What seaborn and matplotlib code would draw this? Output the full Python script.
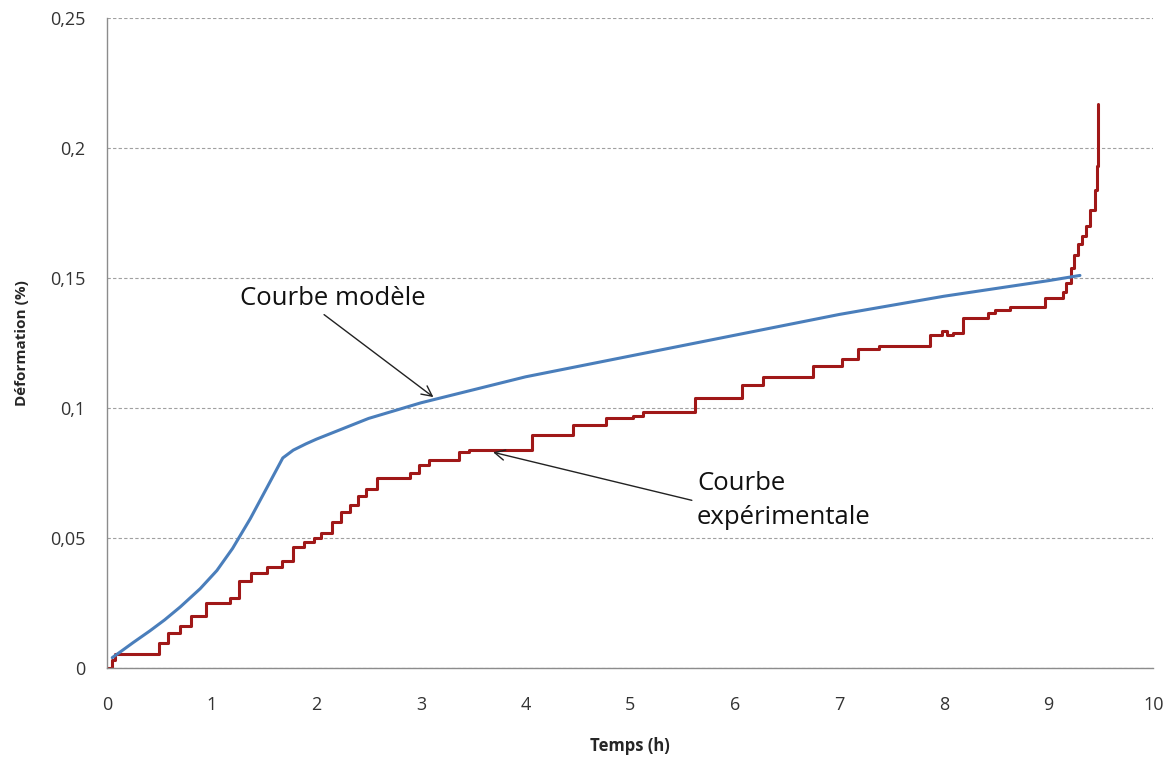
import matplotlib.pyplot as plt
import numpy as np
import pandas as pd
import seaborn as sns

# model curve (smooth)
model_t = [0.05, 0.12, 0.25, 0.41, 0.55, 0.70, 0.89, 1.05, 1.20, 1.37, 1.53, 1.68,
           1.78, 1.90, 2.00, 2.50, 3.00, 3.50, 4.00, 5.00, 6.00, 7.00, 8.00, 9.00, 9.30]
model_def = [0.004, 0.006, 0.0098, 0.0143, 0.0185, 0.0235, 0.0305, 0.0375, 0.046,
             0.0575, 0.0695, 0.0808, 0.0838, 0.0862, 0.088, 0.096, 0.102, 0.107, 0.112,
             0.120, 0.128, 0.136, 0.143, 0.149, 0.151]

# experimental curve (stepwise readings)
exp_t = [0.00, 0.05, 0.08, 0.50, 0.58, 0.70, 0.80, 0.95, 1.18, 1.26, 1.38, 1.53,
         1.67, 1.78, 1.88, 1.98, 2.05, 2.15, 2.24, 2.32, 2.40, 2.48, 2.58, 2.90,
         2.98, 3.08, 3.36, 3.46, 4.06, 4.45, 4.77, 5.03, 5.12, 5.62, 6.07, 6.27,
         6.75, 7.03, 7.18, 7.38, 7.87, 7.98, 8.03, 8.09, 8.18, 8.42, 8.49, 8.63,
         8.97, 9.14, 9.17, 9.21, 9.24, 9.28, 9.32, 9.36, 9.40, 9.44, 9.46, 9.47]
exp_def = [0.000, 0.003, 0.0055, 0.0095, 0.0135, 0.016, 0.020, 0.025, 0.027, 0.0335,
           0.0365, 0.039, 0.041, 0.0465, 0.0485, 0.050, 0.052, 0.056, 0.060, 0.0627,
           0.066, 0.069, 0.073, 0.075, 0.078, 0.080, 0.083, 0.084, 0.0896, 0.0935,
           0.096, 0.097, 0.0985, 0.104, 0.109, 0.112, 0.116, 0.119, 0.1227, 0.124,
           0.128, 0.1295, 0.128, 0.129, 0.1346, 0.1365, 0.1377, 0.139, 0.1425, 0.1446,
           0.148, 0.154, 0.159, 0.163, 0.166, 0.170, 0.176, 0.184, 0.193, 0.217]

x_ticks = [0, 1, 2, 3, 4, 5, 6, 7, 8, 9, 10]
y_ticks = [0, 0.05, 0.10, 0.15, 0.20, 0.25]
y_tick_labels = ["0", "0,05", "0,1", "0,15", "0,2", "0,25"]

df_model = pd.DataFrame({"t": model_t, "d": model_def})
df_exp = pd.DataFrame({"t": exp_t, "d": exp_def})

sns.set_style("white")
plt.rcParams["font.family"] = ["Open Sans", "DejaVu Sans"]

fig = plt.figure(figsize=(11.66, 7.58), dpi=100)
ax = fig.add_axes([0.0918, 0.1187, 0.8972, 0.8575])

sns.lineplot(data=df_exp, x="t", y="d", ax=ax, color="#a01818", linewidth=2.2,
             drawstyle="steps-post", estimator=None, sort=False)
sns.lineplot(data=df_model, x="t", y="d", ax=ax, color="#4a7ebb", linewidth=2.2,
             estimator=None, sort=False)

ax.set_xlim(0, 10)
ax.set_ylim(0, 0.25)
ax.set_xticks(x_ticks)
ax.set_xticklabels([str(v) for v in x_ticks])
ax.set_yticks(y_ticks)
ax.set_yticklabels(y_tick_labels)

ax.yaxis.grid(True, linestyle=(0, (3, 2)), color="#a0a0a0", linewidth=0.8)
ax.set_axisbelow(True)
for side in ["top", "right"]:
    ax.spines[side].set_visible(False)
for side in ["left", "bottom"]:
    ax.spines[side].set_color("#8c8c8c")
    ax.spines[side].set_linewidth(1.0)

ax.tick_params(axis="both", which="major", direction="out", length=3.5, width=1,
               color="#8c8c8c", labelsize=13, labelcolor="#333333")
ax.tick_params(axis="x", pad=17)
ax.tick_params(axis="y", pad=12)

ax.set_xlabel("Temps (h)", fontsize=12, fontweight="bold", labelpad=16)
ax.set_ylabel("Déformation (%)", fontsize=11, fontweight="bold", labelpad=15)

# annotations
ax.annotate("Courbe modèle", xy=(3.12, 0.1042), xytext=(1.27, 0.142),
            fontsize=18.5, va="center", ha="left", color="#111111",
            arrowprops=dict(arrowstyle="->", color="#222222", lw=1,
                            shrinkA=0, shrinkB=0, relpos=(0.43, 0.0)))
ax.annotate("Courbe\nexpérimentale", xy=(3.69, 0.083), xytext=(5.64, 0.0645),
            fontsize=18.5, va="center", ha="left", color="#111111",
            linespacing=1.45,
            arrowprops=dict(arrowstyle="->", color="#222222", lw=1,
                            shrinkA=0, shrinkB=0, relpos=(-0.03, 0.5)))

fig.savefig("out.png", dpi=100)
